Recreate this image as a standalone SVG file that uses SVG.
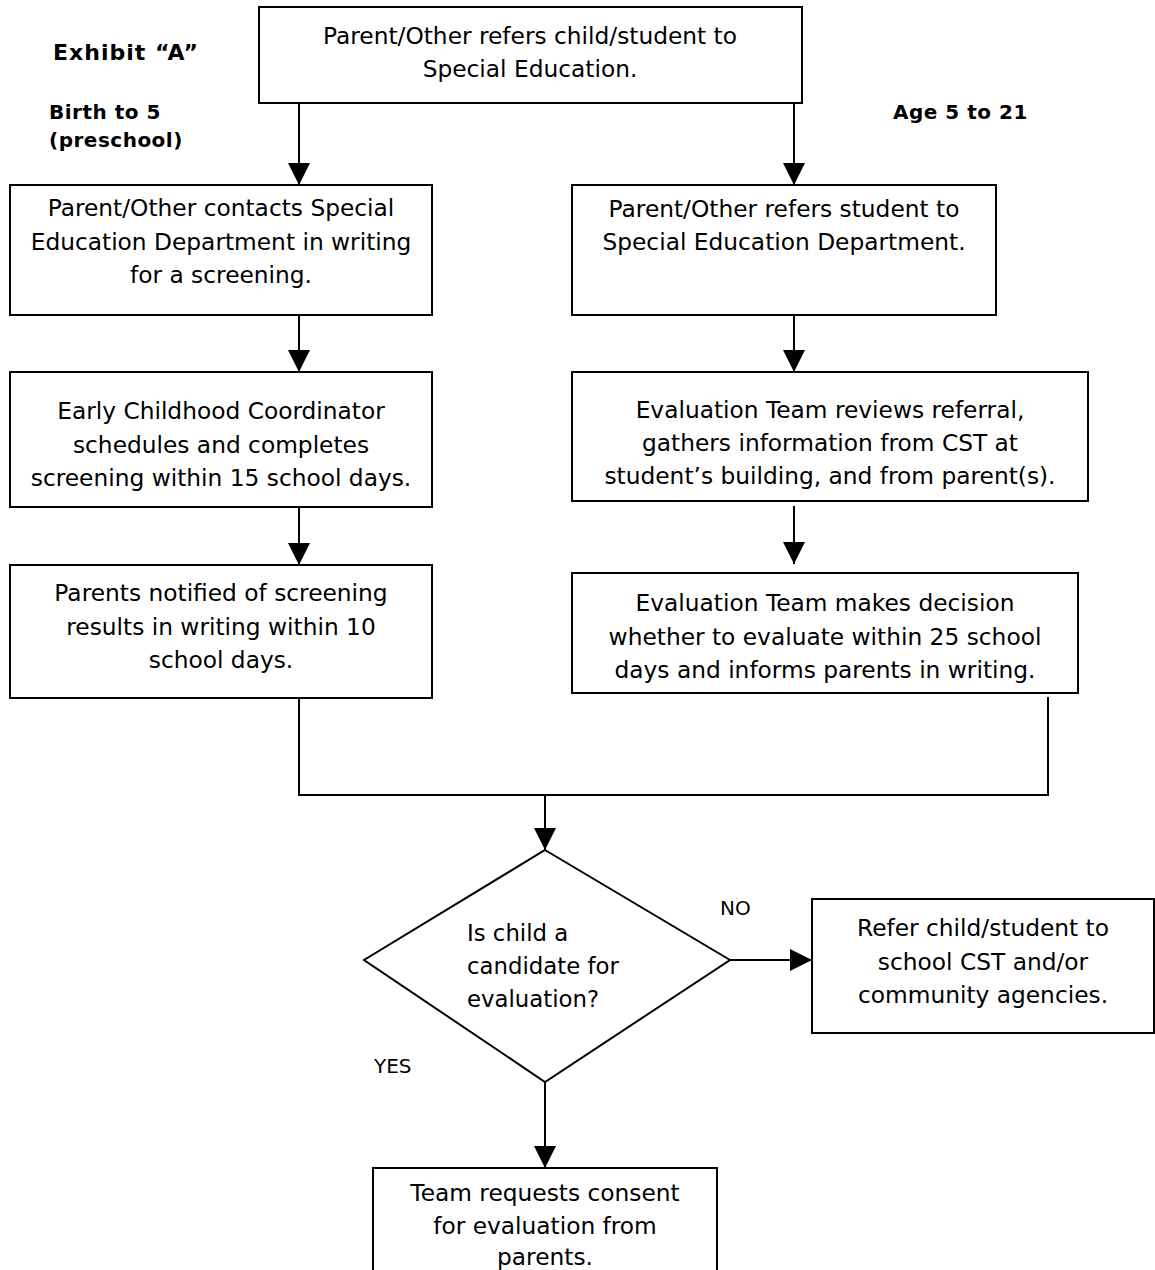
<svg xmlns="http://www.w3.org/2000/svg" width="1155" height="1270" viewBox="0 0 1155 1270">
<style>
.box{fill:#fff;stroke:#000;stroke-width:2}
.t{font-family:"DejaVu Sans",sans-serif;font-size:23.3px;text-anchor:middle;fill:#000}
.v{font-family:"DejaVu Sans",sans-serif;fill:#000}
.b{font-family:"DejaVu Sans",sans-serif;font-weight:bold;fill:#000}
.c{fill:none;stroke:#000;stroke-width:2}
</style>
<defs>
<marker id="ah" markerUnits="userSpaceOnUse" markerWidth="22" markerHeight="22" viewBox="0 0 22 22" refX="22" refY="11" orient="auto">
<path d="M0,0 L22,11 L0,22 Z" fill="#000"/>
</marker>
</defs>
<rect width="1155" height="1270" fill="#fff"/>
<g id="labels">
<text class="b" x="53" y="60" font-size="22" letter-spacing="1">Exhibit “A”</text>
<text class="b" x="49" y="119" font-size="20" letter-spacing="0.5">Birth to 5</text>
<text class="b" x="49" y="147" font-size="20" letter-spacing="0.5">(preschool)</text>
<text class="b" x="893" y="119" font-size="20" letter-spacing="0.5">Age 5 to 21</text>
<text class="v" x="720" y="915" font-size="20">NO</text>
<text class="v" x="374" y="1073" font-size="20">YES</text>
</g>
<g id="connectors">
<line class="c" x1="299" y1="103" x2="299" y2="185" marker-end="url(#ah)"/>
<line class="c" x1="794" y1="103" x2="794" y2="185" marker-end="url(#ah)"/>
<line class="c" x1="299" y1="315" x2="299" y2="372" marker-end="url(#ah)"/>
<line class="c" x1="794" y1="315" x2="794" y2="372" marker-end="url(#ah)"/>
<line class="c" x1="299" y1="507" x2="299" y2="565" marker-end="url(#ah)"/>
<line class="c" x1="794" y1="506" x2="794" y2="564" marker-end="url(#ah)"/>
<polyline class="c" points="299,698 299,795 1048,795 1048,697"/>
<line class="c" x1="545" y1="795" x2="545" y2="850" marker-end="url(#ah)"/>
<line class="c" x1="730" y1="960" x2="812" y2="960" marker-end="url(#ah)"/>
<line class="c" x1="545" y1="1082" x2="545" y2="1168" marker-end="url(#ah)"/>
</g>
<g id="n-top">
<rect class="box" x="259" y="7" width="543" height="96"/>
<text class="t" x="530" y="44">Parent/Other refers child/student to</text>
<text class="t" x="530" y="77">Special Education.</text>
</g>
<g id="n-left1">
<rect class="box" x="10" y="185" width="422" height="130"/>
<text class="t" x="221" y="216">Parent/Other contacts Special</text>
<text class="t" x="221" y="250">Education Department in writing</text>
<text class="t" x="221" y="283">for a screening.</text>
</g>
<g id="n-right1">
<rect class="box" x="572" y="185" width="424" height="130"/>
<text class="t" x="784" y="217">Parent/Other refers student to</text>
<text class="t" x="784" y="250">Special Education Department.</text>
</g>
<g id="n-left2">
<rect class="box" x="10" y="372" width="422" height="135"/>
<text class="t" x="221" y="419">Early Childhood Coordinator</text>
<text class="t" x="221" y="453">schedules and completes</text>
<text class="t" x="221" y="486">screening within 15 school days.</text>
</g>
<g id="n-right2">
<rect class="box" x="572" y="372" width="516" height="129"/>
<text class="t" x="830" y="418">Evaluation Team reviews referral,</text>
<text class="t" x="830" y="451">gathers information from CST at</text>
<text class="t" x="830" y="484">student’s building, and from parent(s).</text>
</g>
<g id="n-left3">
<rect class="box" x="10" y="565" width="422" height="133"/>
<text class="t" x="221" y="601">Parents notified of screening</text>
<text class="t" x="221" y="635">results in writing within 10</text>
<text class="t" x="221" y="668">school days.</text>
</g>
<g id="n-right3">
<rect class="box" x="572" y="573" width="506" height="120"/>
<text class="t" x="825" y="611">Evaluation Team makes decision</text>
<text class="t" x="825" y="645">whether to evaluate within 25 school</text>
<text class="t" x="825" y="678">days and informs parents in writing.</text>
</g>
<g id="n-decision">
<polygon class="box" points="545,850 730,960 545,1082 364,960"/>
<text class="v" x="467" y="941" font-size="22.8">Is child a</text>
<text class="v" x="467" y="974" font-size="22.8">candidate for</text>
<text class="v" x="467" y="1007" font-size="22.8">evaluation?</text>
</g>
<g id="n-refer">
<rect class="box" x="812" y="899" width="342" height="134"/>
<text class="t" x="983" y="936">Refer child/student to</text>
<text class="t" x="983" y="970">school CST and/or</text>
<text class="t" x="983" y="1003">community agencies.</text>
</g>
<g id="n-consent">
<rect class="box" x="373" y="1168" width="344" height="110"/>
<text class="t" x="545" y="1201">Team requests consent</text>
<text class="t" x="545" y="1234">for evaluation from</text>
<text class="t" x="545" y="1265">parents.</text>
</g>
</svg>
